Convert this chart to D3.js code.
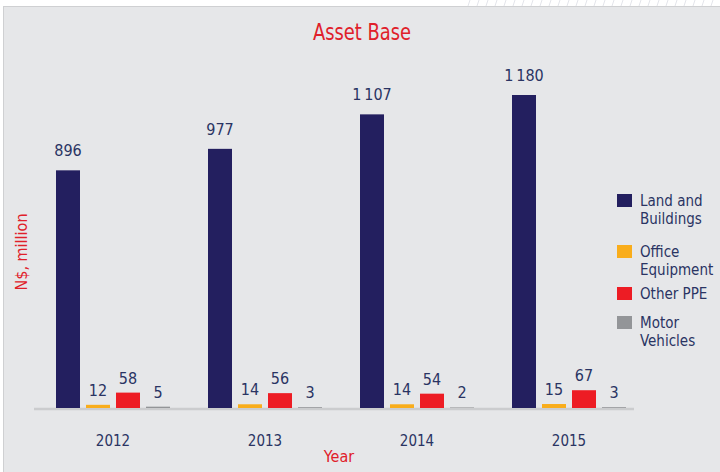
<html>
  <head>
    <title>Asset Base</title>
    <script type="text/javascript" src="https://cdn.jsdelivr.net/npm/d3@7/dist/d3.min.js"></script>
    <style type="text/css">
      body { margin: 0; background: #fff; }
      text { font-family: "Liberation Sans Narrow", "DejaVu Sans Condensed", sans-serif; }
    </style>
  </head>
  <body>
    <div id="chart-container"></div>
    <script type="text/javascript">
      // data
      var years = ["2012", "2013", "2014", "2015"];
      var series = ["Land and Buildings", "Office Equipment", "Other PPE", "Motor Vehicles"];
      var legendLines = [["Land and", "Buildings"], ["Office", "Equipment"], ["Other PPE"], ["Motor", "Vehicles"]];
      var landBuildings = [896, 977, 1107, 1180];
      var officeEquipment = [12, 14, 14, 15];
      var otherPPE = [58, 56, 54, 67];
      var motorVehicles = [5, 3, 2, 3];

      var colors = ["#231f5f", "#f9ad1b", "#ed1c24", "#939598"];
      var values = [landBuildings, officeEquipment, otherPPE, motorVehicles];

      var w = 720, h = 472;
      var base = 408;

      var svg = d3.select("#chart-container").append("svg")
          .attr("width", w)
          .attr("height", h);

      // panel
      svg.append("rect")
          .attr("x", 3.5).attr("y", 6.5)
          .attr("width", w).attr("height", h)
          .attr("fill", "#e6e7e9")
          .attr("stroke", "#cfd0d2");

      // faint hatching at the top right
      svg.append("g").selectAll("line")
          .data(d3.range(28))
          .enter().append("line")
          .attr("x1", function(i) { return 470 + i * 9; })
          .attr("x2", function(i) { return 468 + i * 9; })
          .attr("y1", 0).attr("y2", 6)
          .attr("stroke", "#e3e5ea").attr("stroke-width", 1);

      var x0 = d3.scaleBand().domain(years).range([56, 626])
          .paddingInner(0.25).paddingOuter(0);
      var x1 = d3.scaleBand().domain(d3.range(series.length)).range([0, x0.bandwidth()])
          .paddingInner(0.2).paddingOuter(0);
      var y = d3.scaleLinear().domain([0, 1180]).range([base, 95]);

      // axis baseline
      svg.append("line")
          .attr("x1", 34).attr("x2", 634)
          .attr("y1", base + 1).attr("y2", base + 1)
          .attr("stroke", "#cbccce").attr("stroke-width", 2.5);

      var groups = svg.selectAll("g.year")
          .data(years)
          .enter().append("g")
          .attr("class", "year")
          .attr("transform", function(d) { return "translate(" + x0(d) + ",0)"; });

      var cells = groups.selectAll("g.cell")
          .data(function(d, i) {
              return series.map(function(s, j) { return { s: j, v: values[j][i] }; });
          })
          .enter().append("g").attr("class", "cell");

      cells.append("rect")
          .attr("x", function(d) { return x1(d.s); })
          .attr("y", function(d) { return y(d.v); })
          .attr("width", x1.bandwidth())
          .attr("height", function(d) { return base - y(d.v); })
          .attr("fill", function(d) { return colors[d.s]; });

      cells.append("text")
          .attr("x", function(d) { return x1(d.s) + x1.bandwidth() / 2; })
          .attr("y", function(d) { return y(d.v) - (d.s === 0 ? 14 : 9); })
          .attr("text-anchor", "middle")
          .attr("font-size", 16)
          .attr("fill", "#2a3463")
          .text(function(d) { return d3.format(",")(d.v).replace(",", "\u2009"); });

      // x axis labels
      var xAxis = d3.axisBottom(x0).tickSize(0).tickPadding(0);
      var ax = svg.append("g")
          .attr("transform", "translate(0," + (base + 27) + ")")
          .call(xAxis);
      ax.select(".domain").remove();
      ax.selectAll("text")
          .attr("font-size", 15)
          .attr("fill", "#2a3463")
          .style("font-family", "\"Liberation Sans Narrow\", \"DejaVu Sans Condensed\", sans-serif");

      // titles
      svg.append("text")
          .attr("x", 362).attr("y", 40)
          .attr("text-anchor", "middle")
          .attr("font-size", 23)
          .attr("textLength", 98)
          .attr("lengthAdjust", "spacingAndGlyphs")
          .attr("fill", "#e0202a")
          .text("Asset Base");

      svg.append("text")
          .attr("x", 339).attr("y", 462)
          .attr("text-anchor", "middle")
          .attr("font-size", 16)
          .attr("fill", "#e0202a")
          .text("Year");

      svg.append("text")
          .attr("transform", "translate(27,252) rotate(-90)")
          .attr("text-anchor", "middle")
          .attr("font-size", 16)
          .attr("fill", "#e0202a")
          .text("N$, million");

      // legend
      var legendY = [194, 245, 287, 316];
      var legend = svg.selectAll("g.legend")
          .data(series)
          .enter().append("g")
          .attr("class", "legend")
          .attr("transform", function(d, i) { return "translate(617," + legendY[i] + ")"; });

      legend.append("rect")
          .attr("width", 15).attr("height", 13)
          .attr("fill", function(d, i) { return colors[i]; });

      legend.append("text")
          .attr("x", 23).attr("y", 12)
          .attr("font-size", 15)
          .attr("fill", "#2a3463")
          .selectAll("tspan")
          .data(function(d, i) { return legendLines[i]; })
          .enter().append("tspan")
          .attr("x", 23)
          .attr("dy", function(d, i) { return i ? 18 : 0; })
          .text(function(d) { return d; });
    </script>
  </body>
</html>
